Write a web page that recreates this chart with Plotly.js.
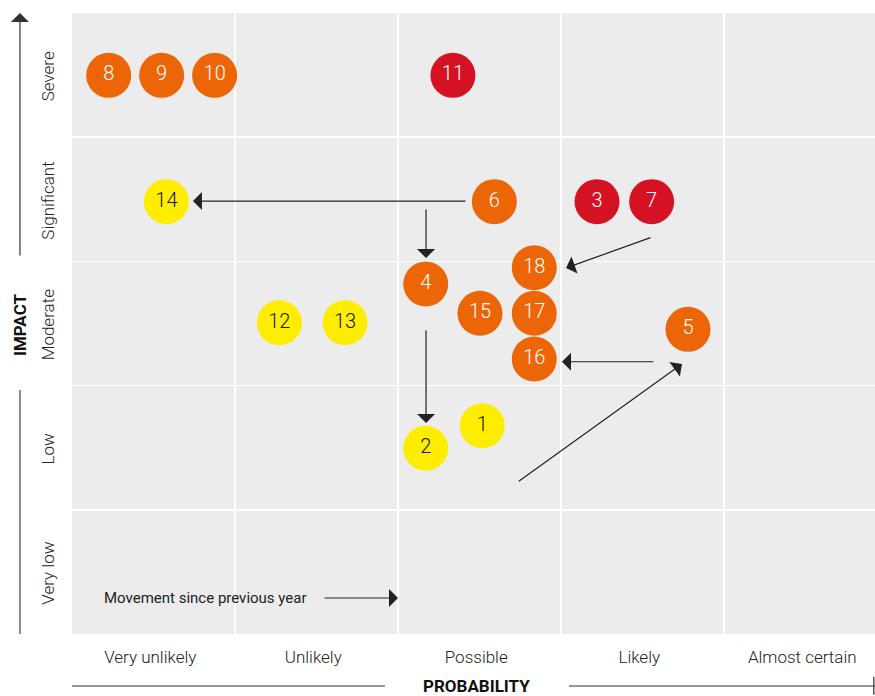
<!DOCTYPE html>
<html>
<head>
<meta charset="utf-8">
<script src="https://cdn.plot.ly/plotly-3.0.1.min.js"></script>
<style>html,body{margin:0;padding:0;background:#fff;}#chart{width:875px;height:696px;}</style>
</head>
<body>
<div id="chart"></div>
<script>
// Categories
const probabilityLabels = ['Very unlikely', 'Unlikely', 'Possible', 'Likely', 'Almost certain'];
const impactLabels = ['Very low', 'Low', 'Moderate', 'Significant', 'Severe'];

// Risks: id, probability score (0-5 scale), impact score (0-5 scale), level
const riskIds =    ['1',   '2',   '3',   '4',   '5',   '6',   '7',   '8',   '9',   '10',  '11',  '12',  '13',  '14',  '15',  '16',  '17',  '18'];
const riskProb =   [2.517, 2.170, 3.221, 2.170, 3.779, 2.591, 3.556, 0.225, 0.550, 0.875, 2.337, 1.272, 1.675, 0.579, 2.503, 2.836, 2.836, 2.836];
const riskImpact = [1.677, 1.495, 3.481, 2.818, 2.453, 3.481, 3.481, 4.498, 4.498, 4.498, 4.498, 2.506, 2.506, 3.481, 2.582, 2.214, 2.582, 2.949];
const riskLevel =  ['low','low','high','medium','medium','medium','high','medium','medium','medium','high','low','low','low','medium','medium','medium','medium'];

// Movement since previous year (arrow tail -> arrow tip)
const moveFromProb =   [2.423, 2.172, 2.172, 3.558, 3.577, 2.732];
const moveFromImpact = [3.486, 3.430, 2.456, 3.196, 2.192, 1.221];
const moveToProb =     [0.742, 2.172, 2.172, 3.031, 3.006, 3.742];
const moveToImpact =   [3.486, 3.027, 1.699, 2.947, 2.192, 2.174];

// Legend arrow
const legendFrom = [1.540, 0.290];
const legendTo = [2.0, 0.290];

const levelColors = {high: '#D51224', medium: '#EC6608', low: '#FFED00'};
const levelText = {high: '#ffffff', medium: '#ffffff', low: '#1a1a1a'};

const traces = ['medium', 'high', 'low'].map(lv => {
  const idx = riskIds.map((_, i) => i).filter(i => riskLevel[i] === lv);
  return {
    type: 'scatter',
    mode: 'markers+text',
    x: idx.map(i => riskProb[i]),
    y: idx.map(i => riskImpact[i]),
    text: idx.map(i => riskIds[i]),
    textposition: 'middle center',
    textfont: {family: 'Roboto', size: 20, weight: 300, color: levelText[lv]},
    marker: {size: 45, color: levelColors[lv], line: {width: 0}},
    hoverinfo: 'skip',
    showlegend: false,
    cliponaxis: false
  };
});

const annotations = [];
for (let i = 0; i < moveFromProb.length; i++) {
  annotations.push({
    xref: 'x', yref: 'y', axref: 'x', ayref: 'y',
    x: moveToProb[i], y: moveToImpact[i],
    ax: moveFromProb[i], ay: moveFromImpact[i],
    text: '', showarrow: true,
    arrowhead: 1, arrowsize: 2.5, arrowwidth: 1.2, arrowcolor: '#222'
  });
}
annotations.push({
  xref: 'x', yref: 'y', axref: 'x', ayref: 'y',
  x: legendTo[0], y: legendTo[1], ax: legendFrom[0], ay: legendFrom[1],
  text: '', showarrow: true,
  arrowhead: 1, arrowsize: 2.5, arrowwidth: 1.2, arrowcolor: '#222'
});
annotations.push({
  xref: 'paper', yref: 'paper', x: 0.0375, y: 0.058, xanchor: 'left', yanchor: 'middle',
  text: 'Movement since previous year', showarrow: false,
  font: {family: 'Roboto', size: 15, color: '#222'}
});
// Axis titles
annotations.push({
  xref: 'paper', yref: 'paper', x: -0.0648, y: 0.499, textangle: -90,
  xanchor: 'center', yanchor: 'middle',
  text: '<b>IMPACT</b>', showarrow: false,
  font: {family: 'Roboto', size: 17, color: '#111'}
});
annotations.push({
  xref: 'paper', yref: 'paper', x: 0.504, y: -0.0837,
  xanchor: 'center', yanchor: 'middle',
  text: '<b>PROBABILITY</b>', showarrow: false,
  font: {family: 'Roboto', size: 17, color: '#111'}
});
// Vertical axis arrow head
annotations.push({
  xref: 'paper', yref: 'paper', x: -0.0648, y: 1.0,
  ax: 0, ay: 244, text: '', showarrow: true,
  arrowhead: 1, arrowsize: 2.5, arrowwidth: 1.2, arrowcolor: '#333'
});

const shapes = [
  {type: 'line', xref: 'paper', yref: 'paper', x0: -0.0648, x1: -0.0648, y0: 0, y1: 0.393, line: {color: '#444', width: 1.2}},
  {type: 'line', xref: 'paper', yref: 'paper', x0: 0, x1: 0.3898, y0: -0.0837, y1: -0.0837, line: {color: '#333', width: 1.2}},
  {type: 'line', xref: 'paper', yref: 'paper', x0: 0.619, x1: 1.0, y0: -0.0837, y1: -0.0837, line: {color: '#333', width: 1.2}},
  {type: 'line', xref: 'paper', yref: 'paper', x0: 0.9985, x1: 0.9985, y0: -0.069, y1: -0.098, line: {color: '#333', width: 1.2}}
];

const tickFont = {family: 'Roboto', size: 17, weight: 300, color: '#222'};

const layout = {
  width: 875, height: 696,
  margin: {l: 72, r: 0, t: 13, b: 62},
  paper_bgcolor: '#ffffff',
  plot_bgcolor: '#ececec',
  xaxis: {
    range: [0, 803 / 163],
    tickmode: 'array',
    tickvals: probabilityLabels.map((_, i) => i + 0.48),
    ticktext: probabilityLabels,
    showgrid: false, zeroline: false, showline: false,
    ticks: '', ticklabelstandoff: 11,
    tickfont: tickFont,
    minor: {tickmode: 'linear', tick0: 0, dtick: 1, showgrid: true, gridcolor: '#ffffff', gridwidth: 1.5, ticks: ''},
    fixedrange: true
  },
  yaxis: {
    range: [0, 5],
    tickmode: 'array',
    tickvals: impactLabels.map((_, i) => i + 0.47),
    ticktext: impactLabels,
    tickangle: -90,
    showgrid: false, zeroline: false, showline: false,
    ticks: '', ticklabelstandoff: 14,
    tickfont: tickFont,
    minor: {tickmode: 'linear', tick0: 0, dtick: 1, showgrid: true, gridcolor: '#ffffff', gridwidth: 1.5, ticks: ''},
    fixedrange: true
  },
  annotations: annotations,
  shapes: shapes,
  showlegend: false,
  font: {family: 'Roboto'}
};

Plotly.newPlot('chart', traces, layout, {displayModeBar: false, staticPlot: true});
</script>
</body>
</html>
